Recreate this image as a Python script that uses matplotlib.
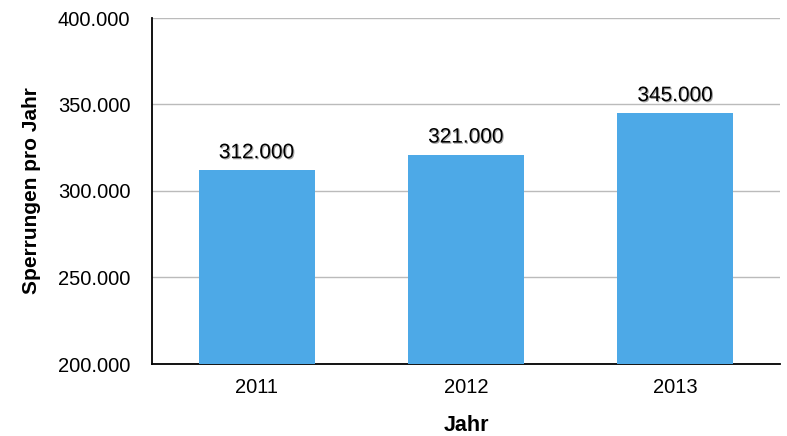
import matplotlib
matplotlib.use("Agg")
import matplotlib.pyplot as plt
import matplotlib.patheffects as pe
from matplotlib.ticker import FuncFormatter

years = ["2011", "2012", "2013"]
values = [312000, 321000, 345000]
value_labels = ["312.000", "321.000", "345.000"]
yticks = [200000, 250000, 300000, 350000, 400000]

plt.rcParams['font.family'] = ['Liberation Sans', 'DejaVu Sans']

fig = plt.figure(figsize=(7.87, 4.36), dpi=100)
ax = fig.add_axes([152/787, 1-364/436, 628/787, 346/436])

x = list(range(len(years)))
ax.bar(x, values, width=0.555, color="#4DA9E7", zorder=3)
ax.set_xlim(-0.5, 2.5)
ax.set_ylim(200000, 400000)
ax.set_yticks(yticks)
ax.yaxis.set_major_formatter(FuncFormatter(lambda v, p: f"{int(v):,}".replace(",", ".")))
ax.set_xticks(x)
ax.set_xticklabels(years)
ax.grid(axis="y", color="#BBBBBB", linewidth=1, zorder=0)
ax.tick_params(axis="both", length=0, labelsize=14.5)
ax.tick_params(axis="y", pad=15.5)
ax.tick_params(axis="x", pad=10)
for s in ["top", "right"]:
    ax.spines[s].set_visible(False)
ax.spines["left"].set_linewidth(1.3)
ax.spines["bottom"].set_linewidth(1.3)

for xi, v, lab in zip(x, values, value_labels):
    ax.text(xi, v + 7000, lab, ha="center", va="baseline", fontsize=15, color="black",
            zorder=5,
            path_effects=[pe.withSimplePatchShadow(offset=(0.8, -0.8), shadow_rgbFace="#666666", alpha=0.6)])

ax.set_xlabel("Jahr", fontsize=15.5, fontweight="bold", labelpad=13)
ax.set_ylabel("Sperrungen pro Jahr", fontsize=15, fontweight="bold", labelpad=12)

fig.savefig("out.png", dpi=100)
